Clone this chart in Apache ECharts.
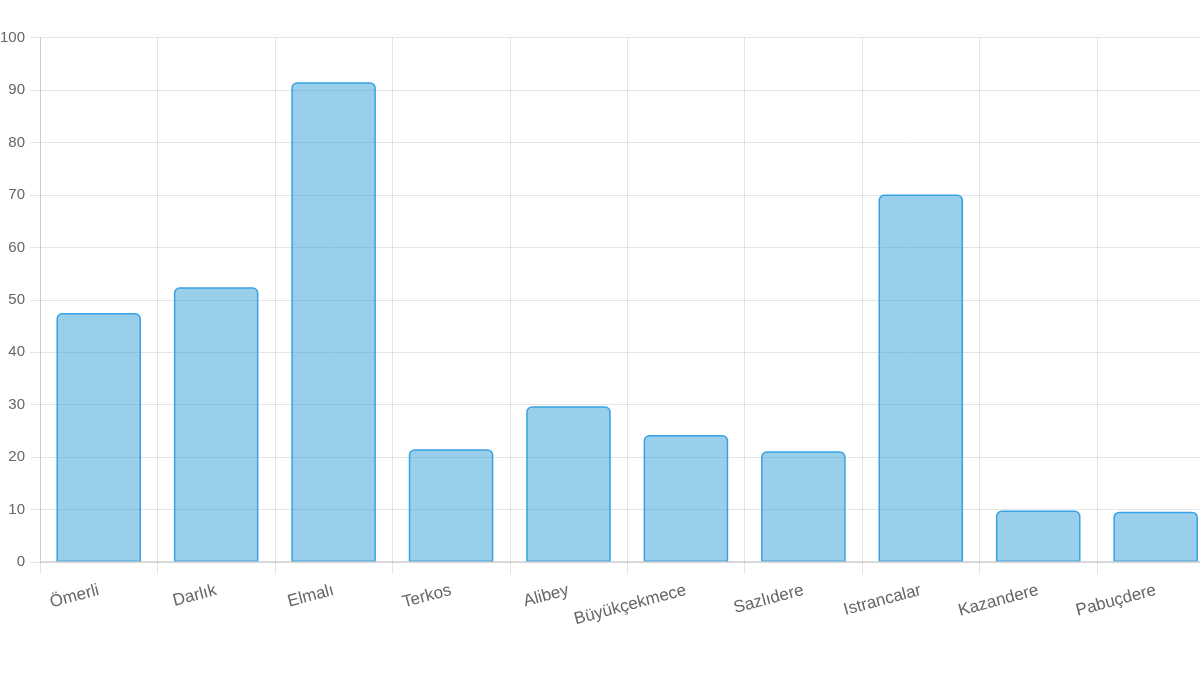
<!DOCTYPE html>
<html>
<head>
<meta charset="utf-8">
<script src="https://cdn.jsdelivr.net/npm/echarts@6/dist/echarts.min.js"></script>
<style>
html,body{margin:0;padding:0;background:#fff;}
#chart{width:1200px;height:675px;}
</style>
</head>
<body>
<div id="chart"></div>
<script>
const categories = ['Ömerli','Darlık','Elmalı','Terkos','Alibey','Büyükçekmece','Sazlıdere','Istrancalar','Kazandere','Pabuçdere'];
const values = [47.5, 52.4, 91.5, 21.5, 29.7, 24.2, 21.1, 70.1, 9.8, 9.6];
const yTicks = { min: 0, max: 100, interval: 10 };

const chart = echarts.init(document.getElementById('chart'));
chart.setOption({
  animation: false,
  backgroundColor: '#ffffff',
  grid: { left: 40, right: -14.4, top: 37.7, bottom: 113, containLabel: false, outerBoundsMode: 'none' },
  xAxis: {
    type: 'category',
    data: categories,
    boundaryGap: true,
    z: 3,
    axisLine: { show: true, lineStyle: { color: '#cfcfcf', width: 1.5 } },
    axisTick: { show: true, alignWithLabel: false, length: 12, lineStyle: { color: 'rgba(0,0,0,0.1)' } },
    splitLine: { show: true, lineStyle: { color: 'rgba(0,0,0,0.1)', width: 1 } },
    axisLabel: {
      rotate: 15, interval: 0, margin: 28,
      color: '#666', fontSize: 17,
      fontFamily: "'Liberation Sans', Arial, Helvetica, sans-serif"
    }
  },
  yAxis: {
    type: 'value',
    min: yTicks.min, max: yTicks.max, interval: yTicks.interval,
    axisLine: { show: true, lineStyle: { color: 'rgba(0,0,0,0.1)' } },
    axisTick: { show: true, length: 10, lineStyle: { color: 'rgba(0,0,0,0.1)' } },
    splitLine: { show: true, lineStyle: { color: 'rgba(0,0,0,0.1)', width: 1 } },
    axisLabel: {
      margin: 15, color: '#666', fontSize: 15,
      fontFamily: "'Liberation Sans', Arial, Helvetica, sans-serif"
    }
  },
  series: [{
    type: 'bar',
    data: values,
    barWidth: '72%',
    itemStyle: {
      color: 'rgba(54,160,216,0.5)',
      borderColor: 'rgb(54,162,228)',
      borderWidth: 1.5,
      borderRadius: [5,5,0,0]
    }
  }]
});
</script>
</body>
</html>
